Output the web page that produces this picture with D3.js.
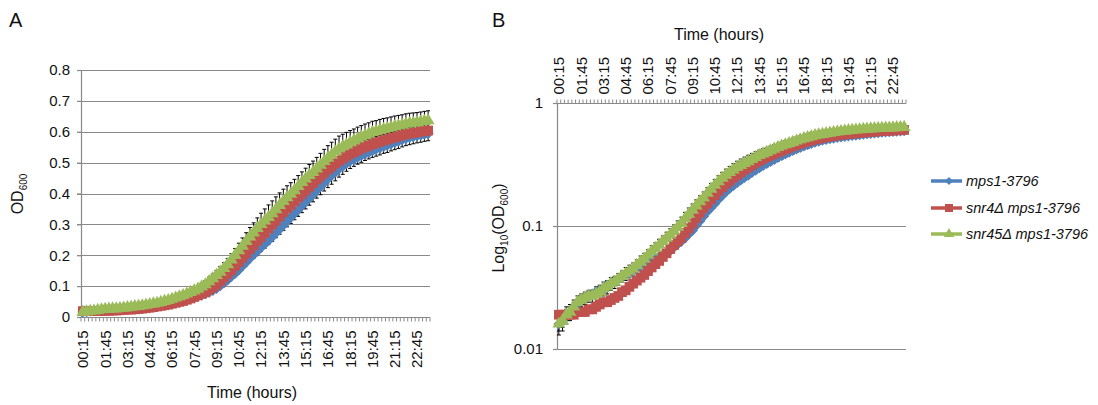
<!DOCTYPE html>
<html><head><meta charset="utf-8">
<script src="https://cdn.jsdelivr.net/npm/d3@7"></script>
<style>
body{margin:0;background:#fff}
text{font-family:"Liberation Sans",Arial,sans-serif;fill:#111}
</style>
</head><body><svg id="c" width="1098" height="405"></svg>
<script>
const categories=["00:15","00:30","00:45","01:00","01:15","01:30","01:45","02:00","02:15","02:30","02:45","03:00","03:15","03:30","03:45","04:00","04:15","04:30","04:45","05:00","05:15","05:30","05:45","06:00","06:15","06:30","06:45","07:00","07:15","07:30","07:45","08:00","08:15","08:30","08:45","09:00","09:15","09:30","09:45","10:00","10:15","10:30","10:45","11:00","11:15","11:30","11:45","12:00","12:15","12:30","12:45","13:00","13:15","13:30","13:45","14:00","14:15","14:30","14:45","15:00","15:15","15:30","15:45","16:00","16:15","16:30","16:45","17:00","17:15","17:30","17:45","18:00","18:15","18:30","18:45","19:00","19:15","19:30","19:45","20:00","20:15","20:30","20:45","21:00","21:15","21:30","21:45","22:00","22:15","22:30","22:45","23:00","23:15","23:30"];
const tickLabels=["00:15","01:45","03:15","04:45","06:15","07:45","09:15","10:45","12:15","13:45","15:15","16:45","18:15","19:45","21:15","22:45"];
const seriesNames=["mps1-3796","snr4\u0394 mps1-3796","snr45\u0394 mps1-3796"];
const mps1=[0.016,0.017,0.019,0.020,0.022,0.023,0.025,0.026,0.027,0.028,
0.029,0.030,0.031,0.033,0.034,0.035,0.037,0.038,0.040,0.041,
0.043,0.045,0.047,0.048,0.050,0.052,0.054,0.056,0.058,0.060,
0.063,0.067,0.071,0.075,0.080,0.086,0.092,0.101,0.110,0.120,
0.131,0.141,0.152,0.165,0.177,0.190,0.202,0.213,0.225,0.236,
0.248,0.259,0.272,0.284,0.297,0.310,0.322,0.335,0.347,0.360,
0.372,0.385,0.397,0.410,0.422,0.435,0.447,0.458,0.469,0.480,
0.488,0.497,0.505,0.511,0.517,0.523,0.528,0.533,0.538,0.543,
0.547,0.552,0.556,0.561,0.565,0.569,0.574,0.578,0.581,0.584,
0.587,0.589,0.592,0.594];
const snr4=[0.019,0.019,0.019,0.019,0.019,0.020,0.020,0.020,0.021,0.021,
0.022,0.023,0.024,0.024,0.025,0.026,0.027,0.029,0.030,0.032,
0.034,0.036,0.038,0.040,0.043,0.046,0.049,0.052,0.056,0.060,
0.065,0.070,0.075,0.080,0.088,0.096,0.105,0.116,0.128,0.140,
0.152,0.165,0.178,0.192,0.206,0.220,0.233,0.247,0.260,0.273,
0.287,0.300,0.313,0.327,0.340,0.352,0.363,0.375,0.387,0.398,
0.410,0.422,0.433,0.445,0.456,0.467,0.478,0.487,0.497,0.506,
0.513,0.521,0.528,0.534,0.540,0.546,0.551,0.555,0.560,0.564,
0.568,0.572,0.575,0.579,0.582,0.585,0.589,0.592,0.594,0.596,
0.598,0.600,0.602,0.604];
const snr45=[0.016,0.017,0.019,0.020,0.022,0.024,0.025,0.026,0.027,0.027,
0.028,0.029,0.031,0.032,0.034,0.035,0.037,0.039,0.041,0.043,
0.045,0.048,0.051,0.054,0.058,0.062,0.066,0.070,0.075,0.080,
0.085,0.091,0.098,0.105,0.115,0.125,0.135,0.146,0.158,0.170,
0.185,0.200,0.215,0.230,0.245,0.260,0.273,0.287,0.300,0.312,
0.323,0.335,0.348,0.362,0.375,0.387,0.398,0.410,0.423,0.436,
0.448,0.459,0.469,0.480,0.492,0.504,0.515,0.525,0.535,0.545,
0.552,0.558,0.565,0.571,0.577,0.583,0.588,0.593,0.598,0.601,
0.605,0.608,0.611,0.614,0.617,0.620,0.622,0.625,0.627,0.628,
0.630,0.632,0.634,0.636];
const mps1Err=[0.002,0.002,0.002,0.002,0.002,0.002,0.002,0.002,0.002,0.002,
0.002,0.002,0.002,0.002,0.002,0.002,0.002,0.002,0.002,0.002,
0.002,0.002,0.002,0.002,0.002,0.002,0.002,0.002,0.002,0.002,
0.003,0.003,0.003,0.003,0.004,0.004,0.004,0.005,0.005,0.005,
0.006,0.006,0.007,0.008,0.009,0.010,0.011,0.012,0.012,0.013,
0.013,0.014,0.015,0.016,0.017,0.018,0.019,0.020,0.021,0.022,
0.022,0.023,0.024,0.025,0.026,0.027,0.028,0.028,0.028,0.027,
0.026,0.025,0.024,0.023,0.022,0.022,0.021,0.021,0.021,0.022,
0.022,0.022,0.023,0.023,0.023,0.023,0.023,0.023,0.023,0.023,
0.023,0.023,0.023,0.023];
const snr4Err=[0.001,0.001,0.001,0.001,0.001,0.001,0.001,0.001,0.001,0.001,
0.001,0.001,0.001,0.001,0.001,0.001,0.001,0.001,0.001,0.001,
0.001,0.001,0.001,0.001,0.002,0.002,0.002,0.002,0.002,0.002,
0.002,0.002,0.003,0.003,0.003,0.003,0.004,0.004,0.004,0.005,
0.005,0.006,0.006,0.007,0.008,0.009,0.010,0.011,0.012,0.013,
0.014,0.015,0.016,0.017,0.018,0.019,0.020,0.020,0.020,0.020,
0.020,0.020,0.020,0.020,0.020,0.020,0.020,0.020,0.020,0.020,
0.020,0.020,0.020,0.020,0.020,0.020,0.020,0.020,0.020,0.020,
0.020,0.020,0.020,0.020,0.020,0.020,0.020,0.020,0.020,0.020,
0.020,0.020,0.020,0.020];
const snr45Err=[0.003,0.003,0.003,0.003,0.003,0.003,0.003,0.003,0.003,0.003,
0.004,0.004,0.004,0.004,0.004,0.004,0.004,0.004,0.005,0.005,
0.005,0.005,0.006,0.006,0.006,0.007,0.007,0.008,0.008,0.009,
0.010,0.011,0.012,0.013,0.014,0.015,0.016,0.017,0.018,0.019,
0.020,0.022,0.024,0.026,0.028,0.030,0.032,0.034,0.036,0.038,
0.040,0.041,0.041,0.040,0.039,0.038,0.037,0.036,0.035,0.034,
0.034,0.035,0.036,0.037,0.038,0.039,0.040,0.041,0.041,0.041,
0.040,0.040,0.039,0.038,0.038,0.037,0.037,0.036,0.036,0.035,
0.035,0.035,0.034,0.034,0.034,0.033,0.033,0.033,0.033,0.033,
0.032,0.032,0.032,0.032];
const yTicksA=[0,0.1,0.2,0.3,0.4,0.5,0.6,0.7,0.8];
const yTicksB=[0.01,0.1,1];
const colors=["#4F81BD","#C0504D","#9BBB59"];

const series=[
  {name:seriesNames[0],values:mps1,err:mps1Err,color:colors[0],sym:d3.symbol(d3.symbolSquare,60),rot:45},
  {name:seriesNames[1],values:snr4,err:snr4Err,color:colors[1],sym:d3.symbol(d3.symbolSquare,95),rot:0},
  {name:seriesNames[2],values:snr45,err:snr45Err,color:colors[2],sym:d3.symbol(d3.symbolTriangle,72),rot:0}
];
const legendSyms=[d3.symbol(d3.symbolSquare,34),d3.symbol(d3.symbolSquare,64),d3.symbol(d3.symbolTriangle,48)];
const gridColor="#898989";
const svg=d3.select("#c");

function panel(opts){
  const {x0,x1,y,top}=opts;
  const g=svg.append("g");
  const x=d3.scaleBand().domain(categories).range([x0,x1]).padding(0);
  const cx=c=>x(c)+x.bandwidth()/2;
  g.append("g").selectAll("line").data(opts.grid).join("line")
    .attr("x1",x0-4).attr("x2",x1).attr("y1",d=>Math.round(y(d))+0.5).attr("y2",d=>Math.round(y(d))+0.5)
    .attr("stroke",gridColor).attr("stroke-width",1.2);
  const ya=g.append("g").attr("transform",`translate(${x0},0)`)
    .call(d3.axisLeft(y).tickValues(opts.yTicks).tickFormat(opts.fmt).tickSize(4).tickPadding(opts.ypad));
  ya.select(".domain").attr("stroke",gridColor).attr("stroke-width",1.2);
  ya.selectAll(".tick line").attr("stroke",gridColor).attr("stroke-width",1.2);
  ya.selectAll("text").attr("font-size",15).attr("font-family","Liberation Sans, Arial, sans-serif").attr("fill","#111");
  const axisY=top? y(1): y(0);
  const xa=g.append("g").attr("transform",`translate(0,${Math.round(axisY)+0.5})`)
    .call((top?d3.axisTop(x):d3.axisBottom(x)).tickValues(tickLabels).tickSize(0).tickPadding(0));
  xa.select(".domain").remove();
  xa.selectAll("text").attr("font-size",15).attr("font-family","Liberation Sans, Arial, sans-serif").attr("fill","#111")
    .attr("transform","rotate(-90)").attr("y",0).attr("dy","0.36em")
    .attr("text-anchor",top?"start":"end").attr("x",top?9:-13);
  xa.append("line").attr("x1",x0).attr("x2",x1).attr("stroke",gridColor).attr("stroke-width",1.2);
  xa.append("g").selectAll("line").data(categories.concat(["__end"])).join("line")
    .attr("x1",d=>d==="__end"?x1:x(d)).attr("x2",d=>d==="__end"?x1:x(d))
    .attr("y1",0).attr("y2",top?-4:4).attr("stroke",gridColor).attr("stroke-width",1);
  const eb=g.append("g").attr("stroke","#000").attr("stroke-width",1);
  series.forEach(s=>{
    const d=categories.map((c,i)=>({c,v:s.values[i],e:s.err[i]}));
    eb.append("g").selectAll("path").data(d).join("path")
      .attr("d",p=>{
        const X=cx(p.c), yt=y(p.v+p.e), yb=y(Math.max(p.v-p.e,0.0101));
        return `M${X},${yt}V${yb}M${X-2},${yt}H${X+2}M${X-2},${yb}H${X+2}`;
      });
  });
  series.forEach(s=>{
    const d=categories.map((c,i)=>({c,v:s.values[i]}));
    const sg=g.append("g");
    sg.append("path").datum(d).attr("fill","none").attr("stroke",s.color).attr("stroke-width",3)
      .attr("d",d3.line().x(p=>cx(p.c)).y(p=>y(p.v)));
    sg.selectAll("path.m").data(d).join("path").attr("class","m")
      .attr("transform",p=>`translate(${cx(p.c)},${y(p.v)}) rotate(${s.rot})`)
      .attr("d",s.sym).attr("fill",s.color);
  });
  return g;
}

const yA=d3.scaleLinear().domain([0,0.8]).range([317,70]);
panel({x0:81,x1:430,y:yA,top:false,grid:yTicksA.slice(1),yTicks:yTicksA,fmt:d=>d===0?"0":d.toFixed(1),ypad:7});
const yB=d3.scaleLog().domain([0.01,1]).range([349,103]);
panel({x0:557,x1:906,y:yB,top:true,grid:[0.01,0.1],yTicks:yTicksB,fmt:d=>d===1?"1":String(d),ypad:10});

svg.append("text").attr("x",9).attr("y",27).attr("font-size",20).text("A");
svg.append("text").attr("x",492).attr("y",27).attr("font-size",20).text("B");
svg.append("text").attr("x",252).attr("y",398).attr("font-size",16).attr("text-anchor","middle").text("Time (hours)");
svg.append("text").attr("x",719).attr("y",40).attr("font-size",16).attr("text-anchor","middle").text("Time (hours)");
const la=svg.append("text").attr("transform","translate(23,194) rotate(-90)").attr("text-anchor","middle").attr("font-size",16);
la.append("tspan").text("OD");
la.append("tspan").attr("font-size",10).attr("dy",4).text("600");
const lb=svg.append("text").attr("transform","translate(504,228) rotate(-90)").attr("text-anchor","middle").attr("font-size",16);
lb.append("tspan").text("Log");
lb.append("tspan").attr("font-size",10).attr("dy",4).text("10");
lb.append("tspan").attr("dy",-4).text("(OD");
lb.append("tspan").attr("font-size",10).attr("dy",4).text("600");
lb.append("tspan").attr("dy",-4).text(")");

const lg=svg.append("g");
const rows=[181,208,234];
series.forEach((s,i)=>{
  const r=lg.append("g").attr("transform",`translate(0,${rows[i]})`);
  r.append("line").attr("x1",931).attr("x2",962).attr("stroke",s.color).attr("stroke-width",3.5);
  r.append("path").attr("transform",`translate(949,0) rotate(${s.rot})`).attr("d",legendSyms[i]).attr("fill",s.color);
  r.append("text").attr("x",966).attr("dy","0.35em").attr("font-size",14.5).attr("font-style","italic").text(s.name);
});
</script>
</body></html>
